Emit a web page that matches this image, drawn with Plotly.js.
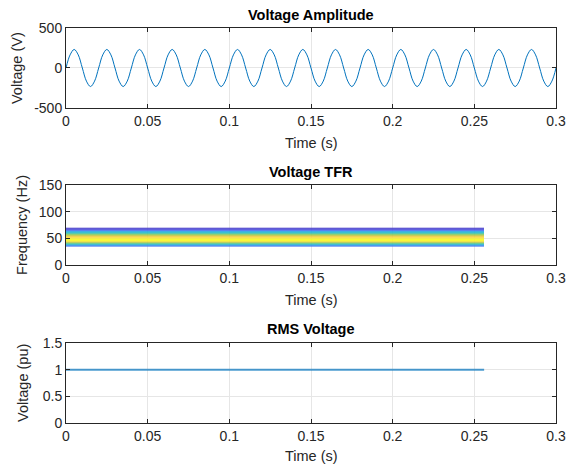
<!DOCTYPE html>
<html>
<head>
<meta charset="utf-8">
<script src="https://cdn.plot.ly/plotly-3.0.1.min.js"></script>
<style>html,body{margin:0;padding:0;background:#fff;}#chart{width:566px;height:475px;}</style>
</head>
<body>
<div id="chart"></div>
<script>
// Voltage waveform: samples read every 1/8 period (50 Hz), amplitude ~232 V
const waveTime = [0,0.0025,0.005,0.0075,0.01,0.0125,0.015,0.0175,0.02,0.0225,0.025,0.0275,0.03,0.0325,0.035,0.0375,0.04,0.0425,0.045,0.0475,0.05,0.0525,0.055,0.0575,0.06,0.0625,0.065,0.0675,0.07,0.0725,0.075,0.0775,0.08,0.0825,0.085,0.0875,0.09,0.0925,0.095,0.0975,0.1,0.1025,0.105,0.1075,0.11,0.1125,0.115,0.1175,0.12,0.1225,0.125,0.1275,0.13,0.1325,0.135,0.1375,0.14,0.1425,0.145,0.1475,0.15,0.1525,0.155,0.1575,0.16,0.1625,0.165,0.1675,0.17,0.1725,0.175,0.1775,0.18,0.1825,0.185,0.1875,0.19,0.1925,0.195,0.1975,0.2,0.2025,0.205,0.2075,0.21,0.2125,0.215,0.2175,0.22,0.2225,0.225,0.2275,0.23,0.2325,0.235,0.2375,0.24,0.2425,0.245,0.2475,0.25,0.2525,0.255,0.2575,0.26,0.2625,0.265,0.2675,0.27,0.2725,0.275,0.2775,0.28,0.2825,0.285,0.2875,0.29,0.2925,0.295,0.2975,0.3];
const waveVolt = [0,164,232,164,0,-164,-232,-164,0,164,232,164,0,-164,-232,-164,0,164,232,164,0,-164,-232,-164,0,164,232,164,0,-164,-232,-164,0,164,232,164,0,-164,-232,-164,0,164,232,164,0,-164,-232,-164,0,164,232,164,0,-164,-232,-164,0,164,232,164,0,-164,-232,-164,0,164,232,164,0,-164,-232,-164,0,164,232,164,0,-164,-232,-164,0,164,232,164,0,-164,-232,-164,0,164,232,164,0,-164,-232,-164,0,164,232,164,0,-164,-232,-164,0,164,232,164,0,-164,-232,-164,0,164,232,164,0,-164,-232,-164,0];

// TFR: time edges, frequency bin edges and energy per bin
const tfrTimeEdges = [0, 0.256];
const tfrFreqEdges = [34,37,40,43,46,49,52,55,58,61,64,67,70];
const tfrEnergy = [0.08,0.3,0.55,0.8,1.0,0.95,0.8,0.62,0.5,0.38,0.22,0.06];

// RMS voltage
const rmsTime = [0, 0.256];
const rmsVolt = [1, 1];

const xTicks = [0,0.05,0.1,0.15,0.2,0.25,0.3];
const xTickText = ["0","0.05","0.1","0.15","0.2","0.25","0.3"];
const y1Ticks = [-500,0,500];
const y1TickText = ["-500","0","500"];
const y2Ticks = [0,50,100,150];
const y3Ticks = [0,0.5,1,1.5];

const parula = [
  [0,'rgb(62,38,168)'],[0.125,'rgb(72,82,244)'],[0.25,'rgb(46,135,247)'],
  [0.375,'rgb(18,177,214)'],[0.5,'rgb(55,200,151)'],[0.625,'rgb(171,199,57)'],
  [0.75,'rgb(254,195,56)'],[0.875,'rgb(246,230,53)'],[1,'rgb(249,251,14)']
];

const blue = 'rgb(0,114,189)';
const fam = '"Liberation Sans", Arial, sans-serif';
const tickFont = {family:fam, size:14, color:'#262626'};
const labelFont = {family:fam, size:14.5, color:'#262626'};
const titleFont = {family:fam, size:14.5, color:'#000'};

const traces = [
  {x: waveTime, y: waveVolt, type:'scatter', mode:'lines', line:{color:blue, width:1, shape:'spline', smoothing:1}, xaxis:'x', yaxis:'y', hoverinfo:'skip'},
  {x: tfrTimeEdges, y: tfrFreqEdges, z: tfrEnergy.map(v => [v]), type:'heatmap', colorscale: parula, zmin:0, zmax:1, showscale:false, zsmooth:'best', opacity:0.85, xaxis:'x2', yaxis:'y2'},
  {x: rmsTime, y: rmsVolt, type:'scatter', mode:'lines', line:{color:blue, width:2}, opacity:0.7, xaxis:'x3', yaxis:'y3'}
];

function xax(anchor){
  return {anchor: anchor, range:[0,0.3], tickvals:xTicks, ticktext:xTickText, ticks:'inside', ticklen:4, tickcolor:'#262626',
    showline:true, mirror:'ticks', linecolor:'#262626', linewidth:1, showgrid:true, gridcolor:'#e6e6e6', zeroline:false, tickfont:tickFont};
}
function yax(anchor, dom, range, vals, text){
  const a = {anchor: anchor, domain: dom, range: range, tickvals: vals, ticks:'inside', ticklen:4, tickcolor:'#262626',
    showline:true, mirror:'ticks', linecolor:'#262626', linewidth:1, showgrid:true, gridcolor:'#e6e6e6', zeroline:false, tickfont:tickFont};
  if (text) a.ticktext = text;
  return a;
}

const ann = (text, x, y, opts) => Object.assign({text:text, x:x, y:y, xref:'paper', yref:'paper', showarrow:false, xanchor:'center', yanchor:'middle', font:labelFont}, opts||{});

const layout = {
  width:566, height:475, margin:{l:66, r:10, t:28, b:52},
  paper_bgcolor:'#fff', plot_bgcolor:'#fff', showlegend:false, font: tickFont,
  xaxis: xax('y'), yaxis: yax('x', [0.7975,1], [-500,500], y1Ticks, y1TickText),
  xaxis2: xax('y2'), yaxis2: yax('x2', [0.4,0.6025], [0,150], y2Ticks),
  xaxis3: xax('y3'), yaxis3: yax('x3', [0,0.2025], [0,1.5], y3Ticks),
  annotations: [
    ann('<b>Voltage Amplitude</b>', 0.5, 1.033, {font:titleFont}),
    ann('<b>Voltage TFR</b>', 0.5, 0.635, {font:titleFont}),
    ann('<b>RMS Voltage</b>', 0.5, 0.238, {font:titleFont}),
    ann('Time (s)', 0.5, 0.709),
    ann('Time (s)', 0.5, 0.311),
    ann('Time (s)', 0.5, -0.0835),
    ann('Voltage (V)', -0.1, 0.8987, {textangle:-90}),
    ann('Frequency (Hz)', -0.09, 0.5012, {textangle:-90}),
    ann('Voltage (pu)', -0.088, 0.1012, {textangle:-90})
  ]
};

Plotly.newPlot('chart', traces, layout, {staticPlot:true, displayModeBar:false});
</script>
</body>
</html>
